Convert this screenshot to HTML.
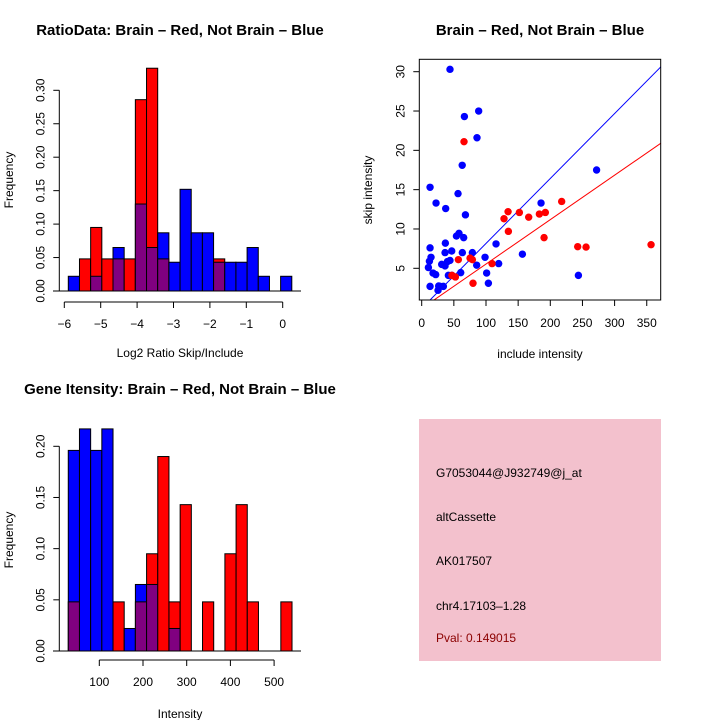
<!DOCTYPE html>
<html><head><meta charset="utf-8"><style>
body{margin:0;background:#fff;}
svg{display:block;font-family:"Liberation Sans",sans-serif;}
</style></head><body>
<svg id="s" width="720" height="720" viewBox="0 0 720 720">
<rect width="720" height="720" fill="#fff"/>
<text x="180" y="35" font-size="15" font-weight="bold" text-anchor="middle">RatioData: Brain – Red, Not Brain – Blue</text>
<text x="540" y="35" font-size="15" font-weight="bold" text-anchor="middle">Brain – Red, Not Brain – Blue</text>
<text x="180" y="394" font-size="15" font-weight="bold" text-anchor="middle">Gene Itensity: Brain – Red, Not Brain – Blue</text>
<text x="180" y="357" font-size="12" text-anchor="middle">Log2 Ratio Skip/Include</text>
<text x="180" y="718" font-size="12" text-anchor="middle">Intensity</text>
<text x="540" y="358" font-size="12" text-anchor="middle">include intensity</text>
<text transform="translate(13,180) rotate(-90)" font-size="12" text-anchor="middle">Frequency</text>
<text transform="translate(13,540) rotate(-90)" font-size="12" text-anchor="middle">Frequency</text>
<text transform="translate(372,190) rotate(-90)" font-size="12" text-anchor="middle">skip intensity</text>
<g>
<rect x="419" y="419" width="242" height="242" fill="#f3c1cd"/>
<text x="436" y="477" font-size="12">G7053044@J932749@j_at</text>
<text x="436" y="521" font-size="12">altCassette</text>
<text x="436" y="565" font-size="12">AK017507</text>
<text x="436" y="610" font-size="12">chr4.17103–1.28</text>
<text x="436" y="642" font-size="12" fill="#8b0000">Pval: 0.149015</text>
</g>
</svg>
<script>
// Ratio histogram
const ratioStart = -5.89, ratioBin = 0.307;
const ratioRed  = [0,0.048,0.095,0.048,0.048,0.048,0.286,0.333,0.048,0,0,0,0,0.048,0,0,0,0,0,0];
const ratioBlue = [0.022,0,0.022,0,0.065,0,0.13,0.065,0.087,0.043,0.152,0.087,0.087,0.043,0.043,0.043,0.065,0.022,0,0.022];
const ratioXTicks = [-6,-5,-4,-3,-2,-1,0];
const freqTicksTop = [0,0.05,0.10,0.15,0.20,0.25,0.30];
// Intensity histogram
const intStart = 29, intBin = 25.6;
const intRed  = [0.048,0,0,0,0.048,0,0.048,0.095,0.19,0.048,0.143,0,0.048,0,0.095,0.143,0.048,0,0,0.048];
const intBlue = [0.196,0.217,0.196,0.217,0,0.022,0.065,0.065,0,0.022,0,0,0,0,0,0,0,0,0,0];
const intXTicks = [100,200,300,400,500];
const freqTicksBot = [0,0.05,0.10,0.15,0.20];
// Scatter
const blueX = [44,88.6,66.4,86,63,13,56.5,22.3,37.3,68,185.6,272,58,54,65.3,13,36.8,115.6,46.7,36.3,63.2,78.8,14.5,12,44,39.9,98.5,156.6,31.1,36.3,85.5,119.7,10.4,17.6,21.8,60.7,101,41.5,47,243.7,13,28.5,33.7,25.4,26.4,103.7];
const blueY = [30.3,25.0,24.3,21.6,18.1,15.3,14.5,13.3,12.6,11.8,13.3,17.5,9.45,9.1,8.9,7.6,8.2,8.1,7.2,7.0,7.0,7.0,6.4,5.9,6.0,5.85,6.4,6.8,5.5,5.3,5.4,5.6,5.1,4.4,4.2,4.45,4.4,4.1,4.1,4.1,2.7,2.7,2.7,2.2,2.75,3.1];
const redX = [65.8,217.7,134.3,151.9,128,166.4,183,192.3,134.8,190.3,242.6,255.6,356.7,57,75.2,78.8,109.4,52.4,47,79.8];
const redY = [21.1,13.5,12.2,12.1,11.3,11.5,11.9,12.1,9.7,8.9,7.75,7.7,8.0,6.1,6.3,6.1,5.6,3.9,4.1,3.1];
const blueFit = [-0.1,0.0826];
const redFit = [-0.11,0.0565];
const scatterXTicks = [0,50,100,150,200,250,300,350];
const scatterYTicks = [5,10,15,20,25,30];

const NS='http://www.w3.org/2000/svg', svg=document.getElementById('s');
function mk(tag,attrs,parent){const e=document.createElementNS(NS,tag);for(const k in attrs)e.setAttribute(k,attrs[k]);(parent||svg).appendChild(e);return e;}

function hist(g, start, bin, red, blue, xs, ys){
  for(let i=0;i<red.length;i++){
    const x0=xs(start+i*bin), x1=xs(start+(i+1)*bin);
    const r=red[i], b=blue[i], mn=Math.min(r,b), mx=Math.max(r,b);
    if(mx>0){
      const e=mk('rect',{x:x0,y:ys(mx),width:x1-x0,height:ys(0)-ys(mx),fill:r>b?'#ff0000':'#0000ff',stroke:'#000','stroke-width':1},g);
      
      
    }
    if(mn>0){
      const e=mk('rect',{x:x0,y:ys(mn),width:x1-x0,height:ys(0)-ys(mn),fill:'#800080',stroke:'#000','stroke-width':1},g);
      
      
    }
  }
}
function yaxis(g,ticks,ys,xline,labelFmt){
  mk('line',{x1:xline,x2:xline,y1:ys(ticks[0]),y2:ys(ticks[ticks.length-1]),stroke:'#000'},g);
  ticks.forEach(t=>{
    mk('line',{x1:xline-6,x2:xline,y1:ys(t),y2:ys(t),stroke:'#000'},g);
    const tx=mk('text',{transform:`translate(${xline-15},${ys(t)}) rotate(-90)`,'font-size':12,'text-anchor':'middle'},g);
    tx.textContent=labelFmt(t);
  });
}
function xaxis(g,ticks,xs,yline,fmt){
  mk('line',{x1:xs(ticks[0]),x2:xs(ticks[ticks.length-1]),y1:yline,y2:yline,stroke:'#000'},g);
  ticks.forEach(t=>{
    mk('line',{x1:xs(t),x2:xs(t),y1:yline,y2:yline+6,stroke:'#000'},g);
    const tx=mk('text',{x:xs(t),y:yline+26,'font-size':12,'text-anchor':'middle'},g);
    tx.textContent=fmt(t);
  });
}
const minus=t=>String(t).replace('-','\u2212');

// Top-left
{
  const g=mk('g',{});
  
  
  const xs=v=>64.3+(v+6)*36.4, ys=v=>291-v*669;
  hist(g,ratioStart,ratioBin,ratioRed,ratioBlue,xs,ys);
  mk('line',{x1:53,x2:301,y1:291,y2:291,stroke:'#000'},g);
  yaxis(g,freqTicksTop,ys,59.3,t=>t.toFixed(2));
  xaxis(g,ratioXTicks,xs,302,minus);
}
// Bottom-left
{
  const g=mk('g',{});
  
  
  const xs=v=>99.3+(v-100)*0.437, ys=v=>651-v*1023.5;
  hist(g,intStart,intBin,intRed,intBlue,xs,ys);
  mk('line',{x1:53,x2:301,y1:651,y2:651,stroke:'#000'},g);
  yaxis(g,freqTicksBot,ys,59.3,t=>t.toFixed(2));
  xaxis(g,intXTicks,xs,660,String);
}
// Scatter
{
  const g=mk('g',{});
  
  
  const xs=v=>421.7+v*0.643, ys=v=>268.3-(v-5)*7.864;
  const L=419.3,R=660.7,T=59.3,B=300;
  const cp=mk('clipPath',{id:'cp'},g); mk('rect',{x:L,y:T,width:R-L,height:B-T},cp);
  const pts=mk('g',{'clip-path':'url(#cp)'},g);
  [[blueFit,'#0000ff','blue-fit-line'],[redFit,'#ff0000','red-fit-line']].forEach(([f,c,n])=>{
    const x0=-10,x1=400;
    const e=mk('line',{x1:xs(x0),y1:ys(f[0]+f[1]*x0),x2:xs(x1),y2:ys(f[0]+f[1]*x1),stroke:c,'stroke-width':1},pts);
    
    
  });
  blueX.forEach((x,i)=>{
    const e=mk('circle',{cx:xs(x),cy:ys(blueY[i]),r:3.7,fill:'#0000ff'},pts);
    
    
  });
  redX.forEach((x,i)=>{
    const e=mk('circle',{cx:xs(x),cy:ys(redY[i]),r:3.7,fill:'#ff0000'},pts);
    
    
  });
  mk('rect',{x:L,y:T,width:R-L,height:B-T,fill:'none',stroke:'#000'},g);
  scatterXTicks.forEach(t=>{
    mk('line',{x1:xs(t),x2:xs(t),y1:B,y2:B+6,stroke:'#000'},g);
    const tx=mk('text',{x:xs(t),y:B+27,'font-size':12,'text-anchor':'middle'},g); tx.textContent=t;
  });
  scatterYTicks.forEach(t=>{
    mk('line',{x1:L-6,x2:L,y1:ys(t),y2:ys(t),stroke:'#000'},g);
    const tx=mk('text',{transform:`translate(${L-15},${ys(t)}) rotate(-90)`,'font-size':12,'text-anchor':'middle'},g); tx.textContent=t;
  });
}
</script>
</body></html>
